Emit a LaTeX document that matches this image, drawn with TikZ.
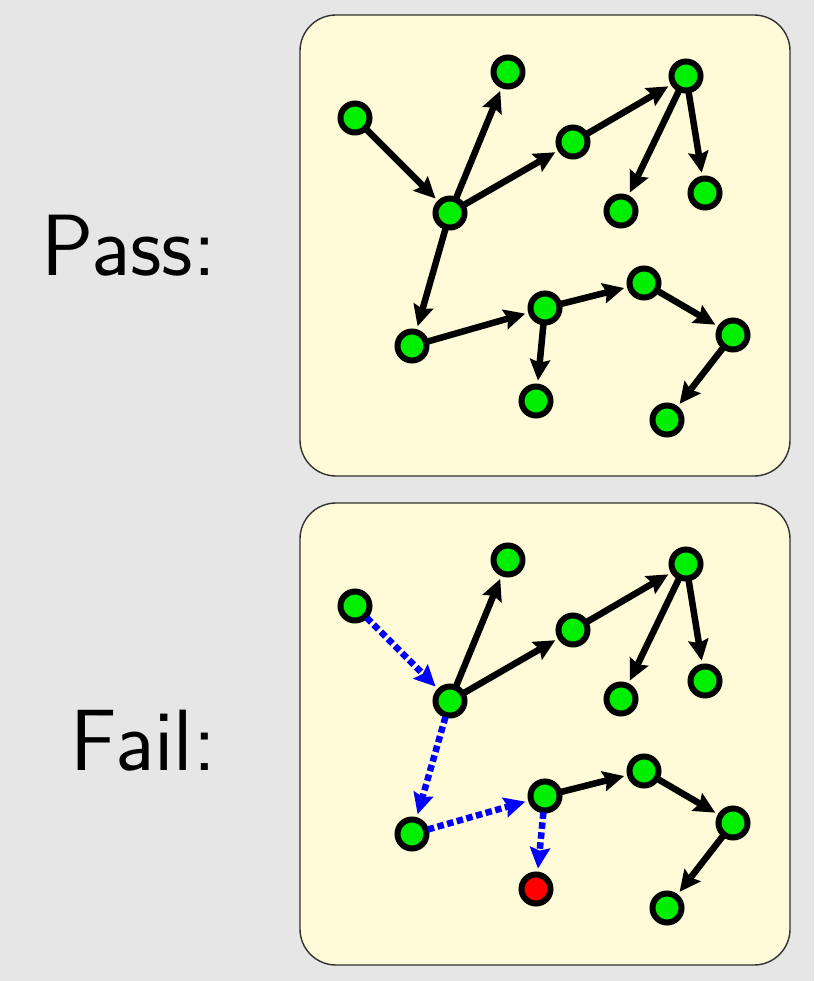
\documentclass[tikz,border=0pt]{standalone}
\usepackage{fontspec}
\usetikzlibrary{arrows.meta}
\definecolor{bgcol}{RGB}{230,230,230}
\definecolor{boxcol}{RGB}{255,250,215}
\definecolor{nodegreen}{RGB}{0,238,0}
\definecolor{nodered}{RGB}{255,0,0}
\definecolor{boxline}{RGB}{50,50,50}
\tikzset{
  vtx/.style={circle,draw=black,line width=6pt,fill=nodegreen,minimum size=29pt,inner sep=0pt},
  badvtx/.style={vtx,fill=nodered},
  edg/.style={line width=6.5pt,-{Stealth[length=21pt,width=20pt,inset=3pt]},shorten >=3pt,shorten <=-1pt},
  badedg/.style={edg,blue,dash pattern=on 6.5pt off 3.5pt},
  panel/.style={draw=boxline,line width=1.4pt,fill=boxcol,rounded corners=36pt},
  lbl/.style={font=\sffamily\fontsize{87}{90}\selectfont,anchor=east,inner sep=0pt}
}
\begin{document}
\begin{tikzpicture}[x=1pt,y=-1pt]
\fill[bgcol] (0,0) rectangle (814,981);
\useasboundingbox (0,0) rectangle (814,981);
\draw[panel] (300,15) rectangle (790,476);
\draw[panel] (300,503) rectangle (790,965);
\node[lbl] (lpass) at (216,246) {Pass:};
\node[lbl] (lfail) at (216,741) {Fail:};
% top graph
\node[vtx] (a) at (355,118) {};
\node[vtx] (b) at (450,213) {};
\node[vtx] (c) at (508,72) {};
\node[vtx] (d) at (573,142) {};
\node[vtx] (e) at (686,76) {};
\node[vtx] (f) at (621,211) {};
\node[vtx] (g) at (705,193) {};
\node[vtx] (h) at (412,346) {};
\node[vtx] (i) at (545,308) {};
\node[vtx] (j) at (644,283) {};
\node[vtx] (k) at (733,335) {};
\node[vtx] (l) at (536,401) {};
\node[vtx] (m) at (667,420) {};
\draw[edg] (a) -- (b);
\draw[edg] (b) -- (c);
\draw[edg] (b) -- (d);
\draw[edg] (d) -- (e);
\draw[edg] (e) -- (f);
\draw[edg] (e) -- (g);
\draw[edg] (b) -- (h);
\draw[edg] (h) -- (i);
\draw[edg] (i) -- (j);
\draw[edg] (j) -- (k);
\draw[edg] (i) -- (l);
\draw[edg] (k) -- (m);
% bottom graph
\begin{scope}[yshift=-488pt]
\node[vtx] (a2) at (355,118) {};
\node[vtx] (b2) at (450,213) {};
\node[vtx] (c2) at (508,72) {};
\node[vtx] (d2) at (573,142) {};
\node[vtx] (e2) at (686,76) {};
\node[vtx] (f2) at (621,211) {};
\node[vtx] (g2) at (705,193) {};
\node[vtx] (h2) at (412,346) {};
\node[vtx] (i2) at (545,308) {};
\node[vtx] (j2) at (644,283) {};
\node[vtx] (k2) at (733,335) {};
\node[badvtx] (l2) at (536,401) {};
\node[vtx] (m2) at (667,420) {};
\end{scope}
\draw[badedg] (a2) -- (b2);
\draw[edg] (b2) -- (c2);
\draw[edg] (b2) -- (d2);
\draw[edg] (d2) -- (e2);
\draw[edg] (e2) -- (f2);
\draw[edg] (e2) -- (g2);
\draw[badedg] (b2) -- (h2);
\draw[badedg] (h2) -- (i2);
\draw[edg] (i2) -- (j2);
\draw[edg] (j2) -- (k2);
\draw[badedg] (i2) -- (l2);
\draw[edg] (k2) -- (m2);
\end{tikzpicture}
\end{document}
